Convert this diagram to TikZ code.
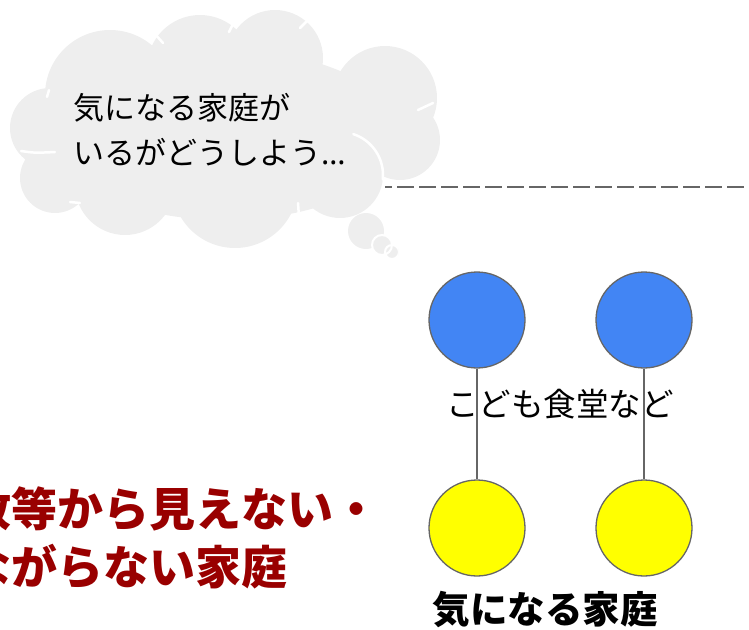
\documentclass[tikz,border=0pt]{standalone}
\usepackage{fontspec}
\setmainfont{Noto Sans CJK JP}
\newfontfamily\latinfont{Noto Sans}
\definecolor{cloudgray}{HTML}{EEEEEE}
\definecolor{rimgray}{HTML}{666666}
\definecolor{kodomoblue}{HTML}{4285F4}
\definecolor{kateiyellow}{HTML}{FFFF00}
\definecolor{alertred}{HTML}{990000}
\begin{document}
\begin{tikzpicture}[x=1pt,y=-1pt,
    kodomo/.style={circle,draw=rimgray,line width=1.3pt,fill=kodomoblue,minimum size=96pt,inner sep=0pt},
    katei/.style={kodomo,fill=kateiyellow},
    link/.style={draw=rimgray,line width=1.3pt},
    crease/.style={white,line width=2.5pt,line cap=round},
    divider/.style={rimgray,line width=1.5pt,dash pattern=on 17pt off 5pt,dash phase=10pt}]
  \useasboundingbox (0,0) rectangle (749,629);
  % thought cloud
  \fill[cloudgray]
    (225,135) ellipse [x radius=175, y radius=85]
    (50,128) circle (40) (55,178) circle (35) (110,95) circle (65)
    (200,68) circle (53) (275,58) circle (48) (385,98) circle (52)
    (400,140) circle (40) (340,175) circle (43) (235,185) circle (63)
    (125,185) circle (50);
  \draw[crease] (340,175) ++(-72:43) arc[start angle=-72, end angle=6, radius=43];
  \draw[crease] (47,97) -- (49,90) (155,34) -- (163,43) (229,32) -- (234,22)
    (300,28) -- (308,20) (394,42) -- (403,44) (418,110) -- (433,103)
    (298,203) -- (299,217) (168,218) -- (177,230) (70,202) -- (80,203)
    (21,151) .. controls (35,153) .. (55,152);
  \begin{scope}
    \clip (0,0) rectangle (398,629);
    \fill[cloudgray] (366,231) circle (18);
    \filldraw[cloudgray,draw=white,line width=2pt] (382,245) circle (10) (392,252) circle (7);
  \end{scope}
  \draw (73,130) node[anchor=west,inner sep=0pt,align=left,font=\fontsize{31}{45}\selectfont](worry){気になる家庭が\\いるがどうしよう{\latinfont …}};
  % dashed boundary
  \coordinate (dashL) at (385,187);
  \coordinate (dashR) at (749,187);
  \draw[divider] (dashL) -- (dashR);
  % circles
  \draw (477,320) node[kodomo](k1){};
  \draw (644,320) node[kodomo](k2){};
  \draw (477,528) node[katei](h1){};
  \draw (644,528) node[katei](h2){};
  \draw[link] (k1) -- (h1) (k2) -- (h2);
  \draw (560,404) node[font=\fontsize{32.5}{32.5}\selectfont](kodomolabel){こども食堂など};
  \draw (545,610) node[font=\bfseries\fontsize{37.5}{37.5}\selectfont](kateilabel){気になる家庭};
  % clipped message on the left
  \begin{scope}
    \clip (0,0) rectangle (749,629);
    \draw (-81,538) node[anchor=west,inner sep=0pt,align=left,text=alertred,font=\bfseries\fontsize{46}{58}\selectfont](hidden){行政等から見えない・\\つながらない家庭};
  \end{scope}
\end{tikzpicture}
\end{document}
